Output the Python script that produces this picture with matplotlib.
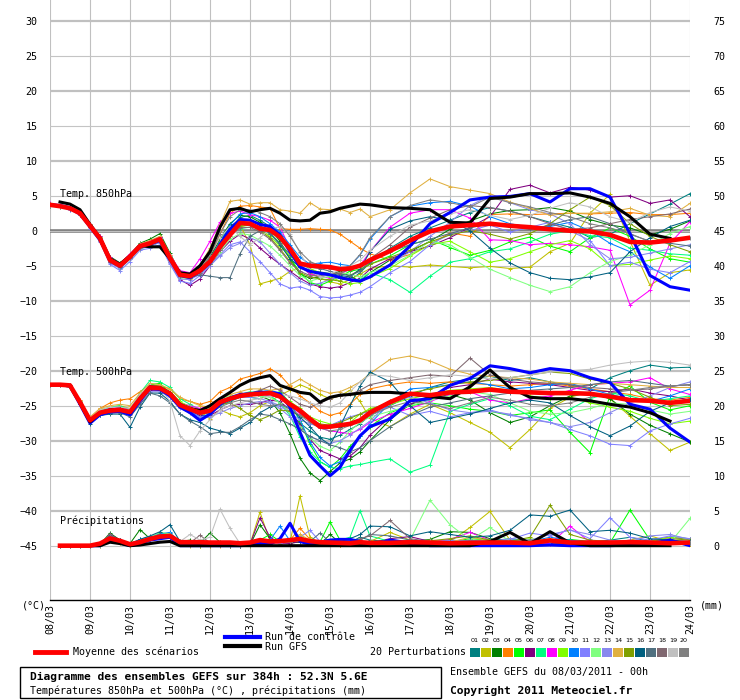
import numpy as np
import matplotlib.pyplot as plt
from matplotlib.lines import Line2D
from matplotlib.patches import Rectangle

plt.rcParams['font.family'] = ['DejaVu Sans Mono']
plt.rcParams['font.size'] = 7.2

nan = np.nan
# 6h steps up to 192h, then 12h steps
hours = np.concatenate([np.arange(0, 193, 6), np.arange(204, 385, 12)])
hours_p = hours[1:]

days = ['08/03', '09/03', '10/03', '11/03', '12/03', '13/03', '14/03', '15/03', '16/03',
        '17/03', '18/03', '19/03', '20/03', '21/03', '22/03', '23/03', '24/03']

pert_colors = ['#008080', '#C0C000', '#008000', '#FF8000', '#00FF00', '#800080', '#00FF80',
               '#FF00FF', '#80FF00', '#0080FF', '#8080FF', '#80FF80', '#8888EE', '#E0B040',
               '#80A000', '#006080', '#507080', '#806870', '#C0C0C0', '#808080']

# ---- 850 hPa (degC)
mean850 = [3.7, 3.5, 3.2, 2.5, 0.7, -1.1, -4.2, -5.0, -3.7, -2.2, -1.8, -1.2, -3.9, -6.3, -6.5, -5.7,
           -4.4, -2.3, -0.6, 1.1, 1.0, 0.3, 0.1, -0.9, -2.6, -4.7, -5.0, -5.1, -5.2, -5.5, -5.4, -5.0, -4.2,
           -2.9, -1.4, -0.1, 0.6, 0.8, 1.0, 0.7, 0.5, 0.2, 0.0, -0.1, -0.6, -1.6, -1.7, -1.4, -1.0]
gfs850 = [nan, 4.1, 3.8, 3.0, 0.9, -1.0, -4.0, -4.8, -3.6, -2.1, -2.3, -2.3, -4.0, -6.0, -6.2, -5.0,
          -3.0, 0.5, 3.0, 3.2, 2.7, 3.0, 3.2, 2.5, 1.5, 1.4, 1.5, 2.5, 2.7, 3.2, 3.5, 3.8, 3.7,
          3.3, 3.2, 3.0, 1.2, 1.1, 4.6, 4.8, 5.3, 5.3, 5.4, 4.8, 3.9, 2.0, -0.5, -1.1, nan]
ctrl850 = [3.7, 3.6, 3.3, 2.4, 0.6, -1.3, -4.3, -5.1, -3.8, -2.3, -1.9, -1.4, -4.1, -6.4, -6.7, -5.8,
           -4.6, -2.0, 0.2, 1.6, 1.5, 0.9, 0.6, -0.6, -3.0, -5.2, -5.8, -6.1, -6.3, -6.7, -7.0, -7.2, -6.6,
           -4.9, -2.2, 1.0, 2.6, 4.4, 4.8, 4.9, 5.3, 4.1, 6.0, 6.0, 4.8, -0.4, -6.4, -8.0, -8.5]
pert850 = [
    [3.8, 3.6, 3.1, 2.4, 0.5, -1.4, -4.5, -5.3, -3.9, -2.0, -1.5, -0.9, -3.6, -6.0, -6.6, -6.0,
     -4.6, -2.2, 0.2, 1.9, 2.2, 1.5, 0.6, -0.7, -2.8, -5.0, -6.2, -6.5, -6.2, -6.8, -7.1, -6.0, -4.6,
     -2.5, -0.8, 0.4, 1.5, 2.6, 3.3, 2.8, 2.0, 1.2, 0.5, -1.0, -0.5, 1.0, 2.4, 3.8, 5.3],
    [3.7, 3.4, 3.3, 2.6, 0.9, -0.9, -3.9, -4.8, -3.5, -2.3, -2.0, -1.5, -4.2, -6.6, -6.9, -6.0,
     -4.0, -1.5, 0.5, 0.8, -2.0, -7.6, -7.2, -6.8, -5.8, -5.2, -6.0, -6.8, -7.3, -7.6, -7.0, -6.2, -5.4,
     -5.0, -5.2, -4.9, -5.1, -5.3, -5.1, -5.4, -5.2, -3.0, -1.8, 2.5, 5.2, -1.5, -7.8, -6.0, -5.6],
    [3.6, 3.5, 3.2, 2.5, 0.8, -0.8, -3.7, -4.6, -3.4, -1.8, -1.2, -0.4, -3.2, -6.0, -6.5, -5.2,
     -3.8, -1.2, 1.0, 2.2, 2.0, 1.2, 0.3, -1.5, -4.0, -6.2, -6.8, -6.6, -6.2, -5.8, -6.5, -7.2, -6.0,
     -4.2, -3.0, -1.5, 0.2, 1.4, 2.4, 2.9, 3.0, 3.3, 2.8, 1.6, 0.8, 0.4, -0.6, 0.2, 1.4],
    [3.8, 3.6, 3.3, 2.6, 0.8, -1.0, -4.1, -4.9, -3.6, -2.1, -1.7, -1.1, -3.7, -6.1, -6.3, -5.4,
     -3.5, -0.5, 2.5, 3.5, 3.6, 3.4, 3.2, 0.3, 0.2, 0.2, 0.3, 0.2, 0.1, -0.5, -1.5, -2.5, -3.3,
     -4.2, -3.4, -2.0, -0.3, -0.8, 2.3, 2.4, 2.3, 2.4, 2.5, 2.4, 2.5, 2.6, 2.3, 2.3, 2.5],
    [3.7, 3.5, 3.2, 2.4, 0.6, -1.2, -4.3, -5.2, -3.8, -2.4, -2.0, -1.4, -4.0, -6.4, -6.6, -5.9,
     -4.8, -2.8, -0.5, 0.8, 1.0, 0.4, -0.3, -1.8, -3.8, -6.0, -7.4, -7.8, -7.2, -6.5, -5.8, -5.5, -4.8,
     -3.6, -2.0, -1.2, -2.4, -3.5, -2.8, -1.6, -0.9, -2.2, -3.0, -1.0, 0.4, -0.8, -2.6, -4.0, -4.5],
    [3.7, 3.5, 3.1, 2.3, 0.5, -1.3, -4.4, -5.2, -3.9, -2.5, -2.2, -1.6, -4.5, -7.0, -7.8, -6.9,
     -5.0, -3.0, -1.5, -0.5, -1.2, -2.5, -3.7, -4.8, -5.8, -6.8, -7.6, -8.0, -8.2, -8.0, -7.4, -6.8, -5.5,
     -4.0, -3.0, -2.2, -1.0, 0.5, 2.0, 5.9, 6.5, 5.4, 6.2, 5.8, 4.8, 5.0, 3.9, 4.4, 2.0],
    [3.7, 3.6, 3.3, 2.6, 0.9, -0.9, -3.8, -4.7, -3.5, -2.0, -1.6, -1.0, -3.6, -6.1, -6.4, -5.5,
     -4.3, -2.2, -0.2, 0.3, 0.5, 0.4, 0.0, -0.8, -2.6, -4.5, -5.5, -6.0, -6.4, -6.8, -7.0, -7.0, -6.0,
     -7.0, -8.8, -6.5, -4.5, -4.0, -3.0, -2.6, -1.6, -0.5, 0.0, -0.7, -1.0, -2.5, -2.8, -3.3, -3.5],
    [3.9, 3.7, 3.4, 2.7, 1.0, -0.8, -3.8, -4.7, -3.3, -1.9, -1.5, -0.9, -3.4, -5.7, -6.0, -4.0,
     -1.5, 1.2, 2.5, 2.8, 2.3, 2.0, 1.5, 0.5, -2.5, -5.0, -6.2, -6.5, -6.8, -6.2, -5.5, -5.0, -3.0,
     0.5, 2.5, 3.0, 3.0, 1.8, -1.3, -1.4, -2.0, -1.8, -2.0, -2.3, -2.8, -10.6, -8.5, -1.8, 1.3],
    [3.7, 3.5, 3.2, 2.5, 0.7, -1.1, -4.1, -5.0, -3.8, -2.3, -1.9, -1.3, -4.0, -6.4, -6.7, -5.9,
     -4.6, -2.5, -0.5, 0.6, 0.9, 0.2, -0.8, -2.2, -3.6, -4.6, -5.4, -6.0, -6.6, -7.2, -7.6, -7.4, -6.6,
     -5.4, -3.6, -2.0, -1.5, -3.0, -4.5, -4.0, -3.0, -2.0, -1.4, -2.6, -5.0, -4.8, -4.2, -3.6, -4.0],
    [3.8, 3.6, 3.2, 2.5, 0.6, -1.2, -4.3, -5.1, -3.8, -2.1, -1.6, -1.0, -3.8, -6.2, -6.4, -5.5,
     -4.0, -1.6, 0.8, 2.4, 2.6, 2.0, 1.0, -0.2, -2.0, -3.8, -4.8, -4.6, -4.5, -4.8, -5.0, -3.5, -1.2,
     2.0, 3.5, 4.0, 4.2, 3.5, 2.0, 1.0, 0.5, 0.6, 1.2, 0.0, -1.8, -3.0, -5.2, -6.8, -5.0],
    [3.6, 3.4, 3.0, 2.2, 0.3, -1.6, -4.8, -5.7, -4.4, -2.8, -2.5, -2.0, -4.8, -7.2, -7.5, -6.4,
     -5.0, -3.4, -2.0, -1.6, -3.0, -4.4, -6.0, -7.6, -8.2, -8.0, -8.5, -9.4, -9.6, -9.5, -9.2, -8.8, -8.0,
     -6.0, -4.4, -2.0, -0.5, 0.0, 0.8, -0.2, 0.5, 1.2, 0.0, -1.4, -5.0, -4.5, -5.5, -6.0, -4.4],
    [3.6, 3.4, 3.1, 2.4, 0.6, -1.2, -4.3, -5.4, -4.1, -2.6, -2.2, -1.6, -4.3, -6.7, -6.8, -5.8,
     -4.8, -3.0, -1.2, -0.4, -0.6, -1.4, -2.2, -3.5, -5.0, -6.4, -7.2, -6.8, -6.5, -6.0, -6.2, -6.6, -6.0,
     -5.0, -3.5, -1.5, -2.0, -3.8, -5.5, -6.7, -7.8, -8.7, -8.0, -6.0, -4.4, -3.5, -2.0, -0.4, 0.6],
    [3.8, 3.5, 3.0, 2.3, 0.4, -1.5, -4.6, -5.4, -4.0, -2.6, -2.2, -1.7, -4.6, -6.9, -7.0, -6.2,
     -5.0, -3.6, -2.4, -1.8, -1.0, -1.6, -3.2, -4.8, -6.0, -7.2, -7.8, -7.5, -7.0, -6.6, -6.8, -7.2, -6.5,
     -4.8, -3.0, -0.8, 1.2, 3.6, 5.0, 4.0, 3.0, 2.4, 1.0, -2.0, -4.0, -3.8, -3.2, -2.6, -2.0],
    [3.8, 3.6, 3.2, 2.6, 0.9, -0.9, -3.9, -4.7, -3.4, -1.9, -1.4, -0.8, -3.4, -5.9, -6.2, -5.0,
     -2.5, 0.8, 4.2, 4.4, 3.8, 4.0, 4.0, 3.0, 2.8, 2.5, 4.0, 3.1, 3.0, 3.1, 2.6, 3.1, 2.0,
     3.0, 5.4, 7.4, 6.3, 5.8, 5.3, 4.1, 3.2, 2.2, 2.5, 2.5, 2.7, 3.2, 2.2, 2.0, 3.9],
    [3.7, 3.5, 3.2, 2.5, 0.8, -1.0, -4.0, -4.9, -3.6, -2.2, -1.8, -1.2, -3.8, -6.2, -6.4, -5.6,
     -4.4, -2.4, -0.4, 0.6, 0.8, 0.0, -1.0, -2.6, -4.4, -6.0, -6.6, -6.9, -7.0, -7.2, -6.4, -5.6, -4.8,
     -3.8, -2.8, -1.6, -0.6, 0.0, -0.5, -1.2, -0.4, 1.0, 3.0, 4.8, 3.6, 1.0, -0.8, -2.0, -3.0],
    [3.7, 3.5, 3.1, 2.4, 0.6, -1.2, -4.2, -5.0, -3.7, -2.2, -1.8, -1.2, -3.9, -6.3, -6.6, -5.8,
     -4.3, -1.8, 0.6, 1.6, 1.6, 0.8, -0.4, -2.0, -4.0, -5.2, -5.8, -5.9, -6.1, -6.4, -6.6, -5.5, -3.0,
     0.2, 1.4, 2.0, 1.5, 0.0, -2.5, -4.6, -6.0, -6.8, -7.0, -6.6, -6.0, -3.0, -1.0, 0.6, 1.5],
    [3.7, 3.5, 3.2, 2.5, 0.7, -1.0, -4.0, -4.8, -3.5, -2.2, -1.9, -1.4, -4.1, -6.4, -6.7, -6.3,
     -6.5, -6.7, -6.7, -3.3, -0.8, 0.0, -0.4, -1.8, -3.4, -4.6, -5.2, -5.4, -5.8, -6.2, -6.4, -5.8, -4.4,
     -3.0, -2.0, -1.2, -0.4, 0.4, 1.0, 0.6, 0.2, 0.8, 1.6, 2.0, 1.0, -0.5, -1.5, -1.8, -2.2],
    [3.6, 3.4, 3.1, 2.3, 0.5, -1.3, -4.4, -5.2, -3.9, -2.4, -2.0, -1.4, -4.2, -6.5, -6.8, -6.0,
     -4.7, -2.8, -0.8, 0.4, 0.5, -0.2, -1.2, -2.8, -4.6, -5.8, -6.4, -6.5, -6.2, -6.0, -5.6, -5.0, -4.0,
     -2.0, 0.5, 1.8, 3.0, 3.6, 3.3, 2.8, 2.0, 1.0, 0.2, 0.4, 1.0, 1.6, 2.0, 2.4, 3.1],
    [3.7, 3.6, 3.3, 2.6, 0.8, -1.0, -4.1, -4.9, -3.6, -2.0, -1.6, -1.0, -3.6, -6.0, -6.2, -5.4,
     -3.4, -1.0, 0.6, -0.8, -2.0, -1.0, 0.2, 0.6, -0.5, -3.2, -5.6, -6.6, -6.2, -5.6, -5.0, -4.2, -2.8,
     -0.8, 0.8, 1.4, 2.4, 3.0, 2.2, 1.6, 2.2, 3.2, 4.0, 3.4, 2.0, 1.2, 2.6, 3.4, 2.8],
    [3.8, 3.6, 3.2, 2.5, 0.7, -1.1, -4.2, -5.0, -3.8, -2.3, -1.9, -1.3, -4.0, -6.3, -6.6, -5.7,
     -3.6, -0.4, 2.0, 3.0, 3.0, 2.6, 2.0, 1.0, -0.8, -3.0, -4.4, -5.0, -5.4, -5.6, -5.0, -3.4, -1.0,
     2.0, 3.6, 4.4, 4.0, 3.4, 4.8, 4.0, 3.4, 2.6, 2.0, 1.0, 0.4, -0.4, -1.6, -1.2, -1.0],
]

# ---- 500 hPa (degC)
mean500 = [-22.0, -22.0, -22.1, -24.5, -27.1, -26.0, -25.7, -25.6, -25.9, -24.0, -22.4, -22.5, -23.3, -24.9, -25.5, -26.0,
           -25.7, -24.5, -24.0, -23.6, -23.4, -23.3, -23.2, -23.7, -24.8, -25.7, -26.9, -28.0, -28.0, -27.8, -27.6, -27.1, -26.0,
           -24.5, -23.3, -23.5, -23.1, -23.0, -22.7, -23.0, -23.1, -23.2, -23.2, -23.3, -23.7, -24.2, -24.3, -24.6, -24.3]
gfs500 = [nan, -22.0, -22.2, -24.6, -27.3, -26.0, -25.6, -25.5, -26.0, -24.0, -22.3, -22.4, -23.2, -24.8, -25.4, -25.7,
          -25.0, -24.0, -23.1, -22.1, -21.4, -21.0, -20.7, -22.1, -22.6, -23.1, -23.3, -24.5, -23.8, -23.5, -23.4, -23.2, -23.1,
          -23.1, -23.3, -23.7, -24.0, -22.3, -19.9, -22.4, -23.8, -24.0, -24.0, -24.3, -24.8, -25.2, -26.0, -27.2, nan]
ctrl500 = [-22.0, -22.0, -22.2, -24.8, -27.5, -26.3, -25.9, -25.8, -26.3, -24.3, -22.5, -22.7, -23.6, -25.2, -26.0, -27.1,
           -26.2, -24.8, -23.9, -23.4, -23.3, -23.1, -23.1, -23.3, -25.2, -28.8, -32.1, -33.6, -35.0, -33.8, -31.4, -29.3, -28.0,
           -26.9, -24.3, -24.0, -22.1, -21.1, -19.3, -19.7, -20.3, -19.7, -20.0, -21.0, -21.7, -24.8, -25.5, -28.2, -30.2]
pert500 = [
    [-22.0, -22.0, -22.2, -24.8, -27.3, -26.2, -25.5, -25.4, -25.8, -23.8, -22.2, -22.4, -23.0, -24.6, -25.6, -26.3,
     -26.0, -25.0, -24.4, -23.8, -23.2, -23.0, -23.6, -24.6, -26.0, -27.5, -28.6, -29.5, -29.8, -29.2, -28.4, -27.6, -26.4,
     -25.0, -23.6, -22.4, -21.6, -21.2, -20.8, -21.4, -21.0, -21.6, -22.0, -22.6, -21.0, -20.0, -19.2, -19.6, -19.5],
    [-22.0, -22.0, -22.0, -24.3, -26.8, -25.6, -25.2, -25.0, -25.4, -23.6, -22.0, -22.2, -23.0, -24.8, -25.2, -25.8,
     -26.9, -25.6, -26.2, -26.6, -26.0, -25.0, -24.4, -23.5, -22.8, -22.0, -22.6, -23.4, -24.0, -23.6, -22.8, -24.4, -26.8,
     -28.0, -26.2, -24.8, -26.0, -27.4, -28.8, -31.0, -28.4, -25.4, -23.8, -23.0, -24.0, -26.5, -29.0, -31.4, -30.2],
    [-22.0, -22.0, -22.1, -24.6, -27.2, -26.1, -25.8, -25.7, -26.0, -24.1, -22.5, -22.6, -23.4, -25.0, -25.6, -26.1,
     -25.8, -24.6, -24.0, -23.4, -23.2, -23.6, -24.2, -26.0, -29.0, -32.5, -34.6, -35.7, -34.4, -33.2, -32.6, -31.6, -30.0,
     -27.0, -24.8, -24.0, -23.4, -24.2, -26.0, -27.4, -26.6, -25.0, -23.6, -23.2, -24.0, -26.2, -27.8, -29.0, -30.2],
    [-22.0, -22.0, -22.0, -24.2, -26.8, -25.4, -24.6, -24.2, -24.0, -23.0, -22.0, -22.2, -22.6, -24.0, -24.4, -24.8,
     -24.4, -23.0, -22.4, -21.2, -20.8, -20.4, -19.7, -20.6, -22.2, -23.6, -24.6, -25.8, -26.4, -26.0, -24.8, -23.4, -22.6,
     -22.0, -21.6, -21.8, -21.6, -21.8, -22.0, -22.2, -22.0, -21.8, -22.2, -22.6, -23.0, -23.4, -24.0, -24.2, -23.8],
    [-22.0, -22.0, -22.2, -24.6, -27.2, -26.0, -25.8, -25.6, -25.9, -23.9, -22.0, -21.8, -23.2, -24.8, -25.4, -26.2,
     -25.6, -24.2, -23.8, -23.6, -23.8, -24.0, -23.4, -23.0, -24.6, -27.2, -30.5, -33.0, -33.8, -32.6, -30.8, -29.4, -28.0,
     -26.0, -25.0, -24.6, -25.0, -25.5, -25.8, -26.4, -26.0, -25.6, -28.8, -31.7, -23.6, -22.2, -24.5, -25.6, -25.0],
    [-22.0, -22.0, -22.1, -24.5, -27.0, -26.2, -26.0, -25.8, -26.2, -24.4, -22.8, -22.8, -23.6, -25.2, -25.8, -26.4,
     -26.4, -25.6, -25.0, -24.8, -24.8, -24.6, -24.2, -24.4, -25.6, -27.8, -29.8, -31.4, -32.0, -32.6, -32.2, -31.0, -29.2,
     -26.6, -24.8, -23.6, -22.4, -22.0, -21.2, -21.6, -21.8, -22.0, -22.4, -22.8, -23.0, -22.6, -23.2, -23.6, -24.2],
    [-22.0, -22.0, -22.1, -24.4, -26.9, -25.8, -25.2, -25.0, -25.6, -23.2, -21.4, -21.6, -22.4, -24.0, -24.8, -25.6,
     -25.8, -25.0, -24.2, -23.4, -23.0, -23.2, -23.6, -24.6, -26.4, -29.5, -31.6, -33.0, -33.8, -34.0, -33.6, -33.4, -33.1,
     -32.6, -34.5, -33.5, -25.8, -24.8, -24.0, -25.0, -26.5, -27.0, -25.5, -24.0, -23.2, -23.6, -24.4, -24.0, -23.6],
    [-22.0, -22.0, -22.2, -24.6, -27.1, -25.8, -25.4, -25.2, -25.6, -23.6, -22.2, -22.4, -23.2, -24.6, -25.0, -25.4,
     -25.0, -24.2, -23.8, -23.4, -23.4, -23.6, -23.6, -23.8, -24.8, -26.2, -27.2, -28.2, -28.6, -28.8, -29.0, -28.4, -27.4,
     -26.2, -25.4, -24.4, -23.4, -23.0, -24.2, -24.6, -24.0, -23.6, -22.8, -22.0, -21.8, -21.6, -21.0, -22.6, -23.4],
    [-22.0, -22.0, -22.1, -24.4, -27.0, -25.9, -25.5, -25.4, -25.8, -24.2, -22.6, -22.4, -23.0, -24.4, -25.2, -25.8,
     -25.4, -24.4, -24.0, -23.8, -23.6, -23.4, -23.2, -23.6, -24.4, -25.4, -26.6, -27.2, -27.6, -28.0, -27.4, -26.2, -25.4,
     -24.8, -24.0, -23.4, -22.8, -22.6, -22.4, -22.8, -23.6, -24.0, -23.8, -24.6, -25.2, -25.8, -26.8, -27.6, -27.2],
    [-22.0, -22.0, -22.2, -24.6, -27.2, -26.2, -25.8, -25.7, -26.0, -24.2, -22.6, -22.7, -23.6, -25.2, -25.9, -26.6,
     -26.2, -25.0, -24.2, -23.6, -23.2, -23.0, -22.8, -23.2, -24.6, -27.0, -30.2, -32.4, -33.6, -33.0, -31.2, -29.4, -27.6,
     -24.6, -22.6, -22.4, -22.0, -21.6, -22.0, -22.6, -22.4, -22.0, -21.8, -22.6, -23.4, -24.0, -24.4, -23.6, -22.6],
    [-22.0, -22.0, -22.1, -24.5, -27.0, -26.0, -25.6, -25.6, -26.0, -24.2, -22.6, -22.8, -23.6, -25.0, -25.6, -26.0,
     -25.6, -24.6, -24.0, -23.8, -23.8, -24.0, -24.4, -25.0, -26.0, -27.0, -27.6, -28.0, -27.8, -27.2, -26.6, -26.2, -25.8,
     -25.2, -26.4, -25.8, -26.6, -26.0, -25.6, -26.4, -26.8, -27.4, -28.4, -29.3, -30.5, -30.7, -28.6, -27.6, -26.8],
    [-22.0, -22.0, -22.1, -24.4, -26.9, -25.8, -25.5, -25.4, -25.6, -23.8, -22.2, -22.2, -23.0, -24.6, -25.2, -25.7,
     -25.4, -24.0, -23.6, -23.4, -23.4, -23.6, -23.8, -24.6, -26.0, -28.0, -29.6, -30.8, -31.4, -30.2, -28.6, -27.4, -26.6,
     -25.8, -25.0, -24.2, -23.6, -23.0, -23.4, -24.6, -25.8, -26.2, -26.0, -25.4, -24.6, -24.8, -25.6, -26.2, -25.8],
    [-22.0, -22.0, -22.2, -24.7, -27.3, -26.3, -26.0, -26.0, -26.4, -24.6, -23.0, -23.0, -23.8, -25.4, -26.0, -26.6,
     -26.6, -26.0, -25.4, -25.0, -24.6, -24.4, -24.6, -25.4, -26.6, -28.4, -29.4, -30.0, -30.4, -30.0, -29.2, -28.2, -27.2,
     -24.4, -23.8, -24.6, -25.6, -26.0, -25.8, -26.2, -27.0, -27.4, -28.0, -27.4, -26.0, -24.6, -23.6, -22.4, -21.6],
    [-22.0, -22.0, -22.0, -24.2, -26.6, -25.4, -25.0, -24.8, -25.0, -23.2, -21.8, -22.0, -22.6, -23.8, -24.4, -25.0,
     -25.2, -24.0, -23.4, -23.0, -22.6, -22.6, -22.8, -22.6, -22.0, -21.2, -22.0, -22.8, -23.2, -23.0, -22.4, -21.6, -20.4,
     -18.4, -17.9, -18.6, -19.8, -20.5, -20.8, -21.0, -21.2, -21.6, -21.8, -22.0, -21.8, -22.0, -22.2, -22.4, -22.4],
    [-22.0, -22.0, -22.2, -24.6, -27.1, -26.0, -25.6, -25.5, -25.8, -24.0, -22.4, -22.4, -23.2, -24.8, -25.4, -26.0,
     -25.8, -24.8, -24.6, -25.4, -26.4, -27.0, -26.4, -25.6, -25.8, -26.4, -27.0, -27.6, -27.8, -27.4, -26.8, -26.2, -25.6,
     -24.4, -23.2, -22.6, -22.0, -21.6, -21.4, -21.0, -20.6, -20.2, -20.4, -21.2, -21.8, -22.6, -23.8, -25.0, -24.8],
    [-22.0, -22.0, -22.2, -24.8, -27.6, -26.4, -26.2, -26.2, -28.1, -25.2, -23.2, -23.2, -24.4, -26.2, -27.0, -27.4,
     -28.2, -28.6, -29.0, -28.2, -27.4, -26.0, -25.2, -24.8, -25.4, -26.6, -28.0, -29.6, -30.6, -28.0, -25.0, -22.2, -20.2,
     -21.6, -25.0, -27.4, -26.8, -26.2, -25.4, -24.6, -24.2, -24.6, -26.4, -28.0, -29.3, -27.9, -25.8, -24.6, -24.0],
    [-22.0, -22.0, -22.2, -24.8, -27.4, -26.4, -26.0, -26.0, -26.6, -24.8, -23.2, -23.6, -24.6, -26.2, -27.2, -28.0,
     -29.0, -28.8, -28.8, -28.0, -27.0, -26.2, -26.4, -27.0, -27.6, -28.4, -29.4, -30.0, -30.6, -31.0, -31.6, -31.0, -30.0,
     -28.0, -26.4, -25.2, -24.6, -24.0, -23.6, -23.2, -22.8, -22.6, -22.4, -22.0, -21.6, -21.4, -21.8, -22.2, -22.0],
    [-22.0, -22.0, -22.1, -24.5, -27.0, -25.9, -25.5, -25.4, -25.8, -23.9, -22.2, -22.4, -23.2, -24.8, -25.4, -25.8,
     -25.6, -24.4, -24.0, -23.6, -23.2, -22.8, -22.2, -22.8, -23.8, -24.8, -25.2, -24.6, -24.0, -23.6, -23.4, -22.8, -22.0,
     -21.4, -21.0, -20.6, -20.8, -18.2, -20.6, -21.2, -21.6, -21.8, -22.0, -22.4, -22.6, -22.8, -22.6, -22.2, -22.0],
    [-22.0, -22.0, -22.0, -24.4, -26.8, -25.6, -25.2, -25.2, -25.4, -23.4, -22.0, -22.4, -24.4, -29.3, -30.7, -28.6,
     -27.0, -25.6, -25.0, -24.6, -24.2, -24.0, -23.6, -23.4, -23.6, -24.0, -24.6, -25.0, -25.2, -24.6, -23.0, -21.6, -20.6,
     -20.8, -21.4, -21.0, -20.6, -20.8, -21.2, -21.0, -20.6, -20.2, -20.0, -19.8, -19.2, -18.8, -18.6, -18.8, -19.2],
    [-22.0, -22.0, -22.1, -24.5, -27.0, -26.0, -25.6, -25.4, -25.8, -24.0, -22.4, -22.6, -23.4, -25.0, -25.6, -26.2,
     -26.0, -25.2, -24.6, -24.2, -24.4, -24.8, -25.0, -24.8, -25.4, -26.4, -27.4, -28.2, -28.6, -28.4, -27.8, -27.0, -26.4,
     -25.2, -24.4, -24.8, -25.4, -24.6, -23.8, -24.2, -24.8, -25.0, -24.6, -23.8, -23.2, -22.8, -22.4, -22.2, -22.0],
]

# ---- precipitation (mm), from +6h
meanP = [0, 0, 0, 0, 0.3, 1.05, 0.7, 0.2, 0.5, 0.96, 1.3, 1.4, 0.5, 0.5, 0.5, 0.45, 0.45, 0.45, 0.35, 0.45,
         0.8, 0.6, 0.65, 0.8, 0.96, 0.65, 0.5, 0.45, 0.4, 0.35, 0.5, 0.4,
         0.4, 0.5, 0.45, 0.35, 0.4, 0.45, 0.45, 0.35, 0.75, 0.45, 0.45, 0.45, 0.5, 0.45, 0.35, 0.45]
ctrlP = [0, 0, 0, 0, 0, 0.8, 0.4, 0, 0.3, 0.8, 1.0, 1.2, 0, 0, 0, 0, 0, 0, 0, 0.1,
         0.3, 0.2, 1.0, 3.2, 0.6, 0.2, 0.5, 0.8, 0.9, 0.9, 0.6, 0,
         0.8, 0.4, 0, 0, 0, 0, 0, 0, 0.1, 0, 0, 0, 0.1, 0.3, 0.8, 0]
gfsP = [0, 0, 0, 0, 0, 0.5, 0.3, 0, 0.1, 0.3, 0.5, 0.6, 0, 0, 0, 0, 0, 0, 0, 0,
        0, 0, 0, 0, 0, 0, 0, 0, 0, 0, 0, 0,
        0, 0, 0, 0, 0, 0.6, 1.9, 0.3, 2.0, 0.4, 0, 0, 0, 0, 0, nan]
pertP = [
    [0, 0, 0, 0, 0.2, 1.4, 0.6, 0.2, 0.8, 1.2, 1.6, 1.8, 0.4, 0.3, 0.2, 0.2, 0.1, 0, 0, 0.1,
     0.6, 0.4, 0.8, 0.6, 1.0, 0.4, 0.3, 0.2, 0.1, 0.5, 1.2, 0.8,
     0.6, 0.4, 0.8, 0.3, 0.5, 0.7, 1.0, 0.6, 0.4, 0.3, 0.5, 0.8, 1.2, 0.6, 0.4, 0.5],
    [0, 0, 0, 0, 0.1, 1.0, 0.4, 0, 0.6, 1.0, 1.4, 1.2, 0.2, 0, 0, 0.1, 0.2, 0, 0, 0.2,
     4.8, 0.6, 0.3, 0.5, 7.1, 1.2, 0.4, 0.2, 0.1, 0.3, 0.5, 0.6,
     1.9, 0.8, 0.4, 0.6, 2.6, 4.9, 0.8, 0.4, 0.6, 0.3, 0.2, 0.5, 0.8, 1.4, 0.6, 0.3],
    [0, 0, 0, 0, 0.2, 1.8, 0.8, 0.3, 2.3, 1.0, 1.2, 1.4, 0.6, 0.8, 0.4, 1.8, 0.5, 0.3, 0.2, 0.1,
     3.0, 1.0, 0.6, 0.4, 0.5, 0.3, 0.2, 1.6, 0.4, 0.2, 0.3, 0.4,
     0.5, 0.6, 0.9, 2.0, 1.9, 1.0, 0.6, 0.5, 0.4, 0.3, 0.6, 0.4, 0.3, 0.5, 0.4, 0.3],
    [0, 0, 0, 0, 0, 0.8, 0.5, 0.1, 0.5, 0.9, 1.3, 1.5, 0.2, 0.1, 0, 0, 0, 0, 0, 0,
     0.4, 0.3, 0.6, 0.8, 2.5, 0.9, 0.3, 0.2, 0.1, 0.2, 0.3, 0.4,
     0.3, 0.4, 0.5, 0.3, 0.4, 0.6, 0.5, 0.4, 0.3, 0.2, 0.4, 0.3, 0.5, 0.6, 0.4, 0.3],
    [0, 0, 0, 0, 0.1, 1.2, 0.7, 0.2, 0.7, 1.1, 1.8, 1.6, 0.3, 0.2, 0.1, 0.2, 0.3, 0.1, 0, 0.1,
     0.8, 1.6, 0.6, 1.0, 0.8, 0.6, 0.5, 3.4, 0.8, 0.4, 0.3, 0.5,
     0.8, 0.6, 0.4, 0.5, 1.0, 0.8, 0.6, 0.5, 0.7, 0.9, 0.6, 0.4, 5.1, 0.8, 0.3, 0.6],
    [0, 0, 0, 0, 0.1, 1.6, 0.8, 0.2, 0.6, 1.0, 1.3, 1.2, 0.3, 0.2, 0.1, 0.2, 0.1, 0, 0, 0.2,
     4.0, 1.2, 0.4, 0.3, 0.6, 0.4, 0.3, 0.2, 0.4, 0.6, 0.5, 0.4,
     1.0, 1.3, 0.6, 0.5, 0.4, 0.6, 0.8, 0.5, 0.4, 0.3, 0.5, 0.4, 0.3, 0.8, 1.2, 0.9],
    [0, 0, 0, 0, 0, 1.0, 0.6, 0.1, 0.5, 0.9, 1.4, 1.6, 0.3, 0.1, 0, 0, 0.2, 0.1, 0, 0,
     0.6, 0.5, 0.4, 0.6, 0.8, 0.5, 0.4, 0.6, 0.8, 1.2, 5.0, 1.4,
     0.6, 0.4, 0.5, 0.8, 0.6, 0.4, 1.0, 0.7, 0.5, 0.4, 0.3, 0.6, 0.4, 0.3, 0.5, 0.4],
    [0, 0, 0, 0, 0.1, 1.3, 0.6, 0.2, 0.6, 1.1, 1.5, 1.4, 0.2, 0.1, 0.1, 0, 0.1, 0, 0, 0.1,
     0.5, 0.3, 0.4, 0.5, 0.9, 0.6, 0.4, 0.3, 0.2, 0.4, 0.6, 0.5,
     0.4, 0.3, 0.6, 0.9, 1.9, 0.8, 0.4, 0.6, 0.3, 2.8, 0.5, 0.4, 0.8, 0.5, 0.3, 0.4],
    [0, 0, 0, 0, 0, 1.1, 0.5, 0.1, 0.6, 1.0, 1.4, 1.3, 0.2, 0.1, 0, 0, 0.1, 0, 0, 0.1,
     0.7, 0.4, 0.5, 0.8, 1.4, 0.6, 0.3, 0.5, 0.4, 0.3, 0.4, 0.5,
     0.5, 0.6, 0.4, 0.6, 0.5, 0.8, 0.6, 1.0, 0.6, 0.4, 0.5, 0.6, 0.4, 0.7, 1.2, 1.0],
    [0, 0, 0, 0, 0.1, 1.5, 0.7, 0.2, 0.9, 1.3, 1.7, 1.9, 0.5, 0.3, 0.1, 0.2, 0.1, 0, 0, 0.1,
     0.6, 0.8, 2.8, 0.7, 0.6, 0.5, 0.4, 0.3, 0.5, 0.4, 0.6, 0.5,
     0.4, 0.5, 0.7, 0.4, 0.6, 0.5, 0.7, 0.6, 1.2, 0.8, 0.5, 0.4, 0.6, 0.5, 0.3, 0.4],
    [0, 0, 0, 0, 0.1, 1.2, 0.8, 0.3, 0.7, 1.0, 1.5, 1.6, 0.4, 0.2, 0.1, 0.1, 0.2, 0.1, 0, 0.1,
     0.5, 0.6, 0.4, 0.7, 1.2, 2.2, 0.6, 0.4, 0.3, 0.5, 0.6, 0.4,
     0.5, 0.6, 0.4, 0.8, 0.6, 0.5, 0.9, 1.8, 1.4, 2.3, 1.0, 4.0, 1.2, 0.8, 1.4, 1.0],
    [0, 0, 0, 0, 0.1, 1.3, 0.7, 0.2, 0.8, 1.2, 1.9, 1.7, 0.3, 0.2, 0.1, 0.1, 0.2, 0, 0, 0.1,
     0.6, 0.5, 0.6, 0.5, 0.8, 0.5, 0.4, 0.6, 0.8, 0.6, 0.4, 0.5,
     0.6, 0.8, 6.5, 3.0, 0.8, 2.6, 0.6, 0.4, 0.5, 0.4, 0.6, 0.3, 0.5, 0.6, 0.4, 3.9],
    [0, 0, 0, 0, 0.1, 1.4, 0.7, 0.2, 0.6, 1.1, 1.6, 1.5, 0.3, 0.2, 0.1, 0.1, 0.1, 0, 0, 0.1,
     0.5, 0.4, 0.5, 0.6, 1.0, 0.6, 0.5, 0.4, 0.3, 0.4, 0.5, 0.4,
     0.5, 0.4, 0.6, 0.5, 0.8, 0.6, 1.0, 0.8, 1.6, 2.2, 1.6, 0.8, 0.6, 1.4, 1.6, 0.9],
    [0, 0, 0, 0, 0, 0.9, 0.5, 0.1, 0.5, 0.9, 1.2, 1.4, 0.2, 0.1, 0, 0, 0.1, 0, 0, 0,
     0.4, 0.3, 0.5, 0.6, 1.6, 0.8, 0.3, 0.2, 0.2, 0.3, 0.4, 0.6,
     0.4, 0.6, 0.8, 0.5, 1.2, 0.7, 0.5, 0.6, 1.0, 0.6, 0.4, 0.6, 0.5, 0.3, 0.5, 0.6],
    [0, 0, 0, 0, 0.1, 1.2, 0.6, 0.2, 0.7, 1.0, 1.5, 1.4, 0.3, 0.2, 0.1, 0.1, 0.1, 0, 0, 0.1,
     0.6, 0.5, 0.6, 0.8, 1.0, 0.6, 0.5, 0.4, 0.3, 0.5, 0.6, 0.5,
     0.6, 0.5, 0.7, 1.0, 1.4, 0.8, 0.6, 1.2, 5.8, 1.6, 0.8, 0.6, 0.5, 0.6, 1.0, 0.8],
    [0, 0, 0, 0, 0.2, 1.6, 0.8, 0.3, 0.9, 1.4, 2.0, 3.0, 0.6, 0.3, 0.2, 0.2, 0.2, 0.1, 0, 0.1,
     0.7, 0.6, 0.5, 0.6, 0.8, 0.6, 0.5, 0.4, 0.6, 1.0, 1.6, 2.8,
     2.7, 1.4, 2.0, 1.6, 1.2, 1.4, 2.2, 4.4, 4.2, 5.1, 2.0, 2.2, 1.8, 1.0, 0.8, 0.6],
    [0, 0, 0, 0, 0.1, 1.3, 0.6, 0.2, 0.7, 1.1, 1.6, 1.5, 0.4, 0.3, 0.2, 0.3, 0.2, 0.1, 0, 0.1,
     0.6, 0.4, 0.5, 0.7, 0.9, 0.6, 1.8, 0.5, 0.4, 0.6, 0.8, 1.6,
     1.4, 0.8, 0.6, 0.5, 0.7, 0.6, 0.5, 0.6, 0.8, 0.6, 0.5, 0.4, 0.6, 0.5, 0.4, 0.5],
    [0, 0, 0, 0, 0.1, 1.7, 0.6, 0.2, 0.6, 1.0, 1.4, 1.3, 0.3, 0.4, 1.5, 0.4, 0.2, 0.1, 0, 0.1,
     0.5, 0.4, 0.5, 0.6, 0.8, 0.5, 0.4, 0.3, 0.5, 0.6, 1.0, 1.4,
     3.6, 1.0, 0.6, 0.5, 0.6, 0.7, 0.5, 0.4, 0.6, 0.5, 0.4, 0.6, 0.5, 0.4, 0.6, 0.5],
    [0, 0, 0, 0, 0, 1.0, 0.5, 0.2, 0.5, 0.9, 1.2, 1.4, 0.6, 1.6, 0.8, 1.2, 5.2, 2.5, 0.3, 0.1,
     0.4, 0.3, 0.5, 0.6, 0.8, 0.5, 0.4, 0.3, 0.2, 0.3, 0.4, 0.5,
     0.4, 0.5, 0.6, 0.4, 0.5, 0.6, 0.4, 0.5, 0.6, 0.4, 0.3, 0.5, 0.4, 0.6, 0.5, 0.4],
    [0, 0, 0, 0, 0.1, 1.2, 0.6, 0.1, 0.6, 1.0, 1.4, 1.3, 0.2, 0.1, 0.1, 0.2, 0.1, 0, 0, 0.1,
     0.5, 0.4, 0.6, 0.5, 0.8, 0.5, 0.4, 0.3, 0.2, 0.4, 0.5, 0.6,
     0.5, 0.6, 0.4, 0.5, 0.6, 0.4, 0.5, 0.8, 0.6, 0.5, 0.4, 0.3, 0.4, 0.5, 0.3, 0.4],
]

# precipitation is drawn on the temperature scale, 0 mm sitting on -45
P0 = -45

W, H = 740, 700
fig = plt.figure(figsize=(W / 100, H / 100), dpi=100)
ax = fig.add_axes([50 / W, 100 / H, 640 / W, 600 / H])
ylo, yhi = -52.76, 32.96
ax.set_xlim(0, 384)
ax.set_ylim(ylo, yhi)


def fx(px):
    return px / W


def fy(py):
    return 1 - py / H


# grid
for d in range(17):
    ax.axvline(d * 24, color='#C0C0C0', lw=0.8, zorder=0)
for v in [25, 15, 5, -5, -15, -25, -35, -45]:
    ax.axhline(v, color='#C4C4C4', lw=0.8, zorder=0)
for v in [30, 20, 10, -10, -20, -30, -40]:
    ax.axhline(v, color='#C0C0C0', lw=1.6, zorder=0)
ax.axhline(0, color='#808080', lw=2.6, zorder=0)
ax.axhline(0, color='#C0C0C0', lw=0.8, zorder=0)


def draw(x, y, **kw):
    n = min(len(x), len(y))
    ax.plot(x[:n], np.asarray(y[:n], dtype=float), **kw)


for i in range(20):
    c = pert_colors[i]
    style = dict(color=c, lw=0.75, marker='+', ms=2.6, mew=0.7, zorder=2)
    draw(hours, pert850[i], **style)
    draw(hours, pert500[i], **style)
    draw(hours_p, np.array(pertP[i]) + P0, **style)

for y in [ctrl850, ctrl500]:
    draw(hours, y, color='#0000FF', lw=2.2, zorder=3)
draw(hours_p, np.array(ctrlP) + P0, color='#0000FF', lw=2.2, zorder=3)
for y in [gfs850, gfs500]:
    draw(hours, y, color='#000000', lw=2.2, zorder=4)
draw(hours_p, np.array(gfsP) + P0, color='#000000', lw=2.2, zorder=4)
for y in [mean850, mean500]:
    draw(hours, y, color='#FF0000', lw=3.3, zorder=5)
draw(hours_p, np.array(meanP) + P0, color='#FF0000', lw=3.3, zorder=5)

ax.text(6, 5.3, 'Temp. 850hPa', va='center', zorder=6)
ax.text(6, -20.2, 'Temp. 500hPa', va='center', zorder=6)
ax.text(6, -41.5, 'Précipitations', va='center', zorder=6)

# axes
for s in ['top', 'left', 'right']:
    ax.spines[s].set_visible(False)
ax.spines['bottom'].set_color('black')
ax.spines['bottom'].set_linewidth(1.0)
ax.set_yticks(np.arange(-45, 31, 5))
ax.tick_params(axis='y', length=0, pad=9, labelsize=7.2)
ax.set_xticks(np.arange(0, 385, 24))
ax.set_xticklabels(days, rotation=90)
ax.tick_params(axis='x', length=0, pad=3, labelsize=7.2)

ax2 = ax.twinx()
ax2.set_ylim(ylo - P0, yhi - P0)
ax2.set_yticks(np.arange(0, 76, 5))
ax2.tick_params(axis='y', length=0, pad=17, labelsize=7.2)
for s in ax2.spines.values():
    s.set_visible(False)

fig.text(fx(22), fy(606), '(°C)', va='center')
fig.text(fx(700), fy(606), '(mm)', va='center')

# legend
fig.add_artist(Line2D([fx(225), fx(260)], [fy(637), fy(637)], color='#0000FF', lw=3))
fig.text(fx(265), fy(637), 'Run de contrôle', va='center')
fig.add_artist(Line2D([fx(225), fx(260)], [fy(646), fy(646)], color='#000000', lw=3))
fig.text(fx(265), fy(647), 'Run GFS', va='center')
fig.add_artist(Line2D([fx(35), fx(66)], [fy(652), fy(652)], color='#FF0000', lw=3.5))
fig.text(fx(73), fy(652), 'Moyenne des scénarios', va='center')
fig.text(fx(466), fy(652), '20 Perturbations', va='center', ha='right')
for i in range(20):
    x0 = 470 + 11 * i
    fig.add_artist(Rectangle((fx(x0), fy(657)), 10 / W, 9 / H, transform=fig.transFigure,
                             facecolor=pert_colors[i], edgecolor='none'))
    fig.text(fx(x0 + 5), fy(641), '%02d' % (i + 1), ha='center', va='center', fontsize=4.6,
             family='DejaVu Sans Condensed')

# caption block
fig.add_artist(Rectangle((fx(20), fy(698)), 421 / W, 31 / H, transform=fig.transFigure,
                         fill=False, edgecolor='black', lw=1))
fig.text(fx(30), fy(677), 'Diagramme des ensembles GEFS sur 384h : 52.3N 5.6E',
         va='center', fontsize=8.1, fontweight='bold')
fig.text(fx(30), fy(691), 'Températures 850hPa et 500hPa (°C) , précipitations (mm)', va='center')
fig.text(fx(450), fy(672), 'Ensemble GEFS du 08/03/2011 - 00h', va='center')
fig.text(fx(450), fy(691), 'Copyright 2011 Meteociel.fr', va='center', fontsize=8.1, fontweight='bold')

fig.savefig('out.png', dpi=100)
